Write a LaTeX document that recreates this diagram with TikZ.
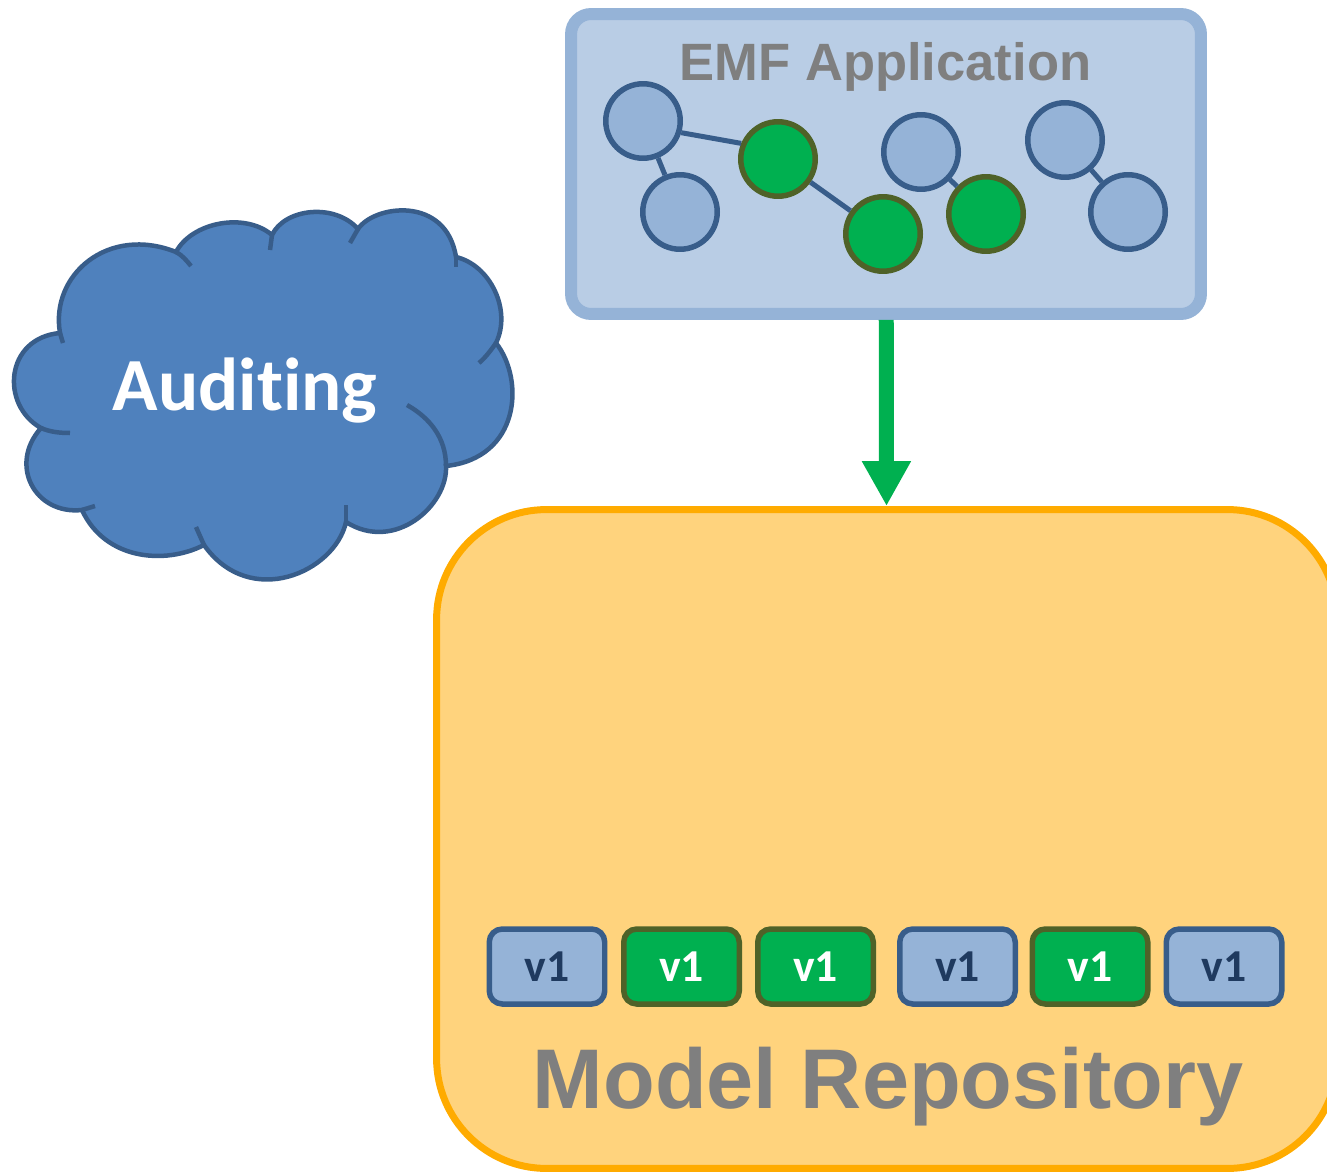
\documentclass[tikz,border=0pt]{standalone}
\usepackage{fontspec}
\setmainfont{Liberation Sans}
\newfontfamily\calfont[Ligatures=NoCommon]{Carlito}
\usetikzlibrary{arrows.meta}
\definecolor{lightblue}{HTML}{95B3D7}
\definecolor{paleblue}{HTML}{B9CDE5}
\definecolor{darkblue}{HTML}{385D8A}
\definecolor{cloudblue}{HTML}{4F81BD}
\definecolor{inkblue}{HTML}{1F3A5F}
\definecolor{auditgreen}{HTML}{00B050}
\definecolor{darkolive}{HTML}{4F6228}
\definecolor{repofill}{HTML}{FFD37D}
\definecolor{repoline}{HTML}{FFAB00}
\definecolor{titlegray}{HTML}{7F7F7F}
\tikzset{
    objblue/.style={circle,draw=darkblue,fill=lightblue,line width=0.11cm,minimum size=1.49cm,inner sep=0pt},
    objgreen/.style={objblue,draw=darkolive,fill=auditgreen},
    link/.style={draw=darkblue,line width=0.1cm},
    verblue/.style={rectangle,rounded corners=0.26cm,draw=darkblue,fill=lightblue,line width=0.11cm,minimum width=2.31cm,minimum height=1.5cm,inner sep=0pt,text=inkblue,font=\calfont\bfseries\fontsize{26}{26}\selectfont},
    vergreen/.style={verblue,draw=darkolive,fill=auditgreen,text=white},
    cloudline/.style={draw=darkblue,line width=0.09cm},
    title/.style={anchor=base,text=titlegray,font=\bfseries\fontsize{#1}{#1}\selectfont,inner sep=0pt}
}
\begin{document}
\begin{tikzpicture}[x=0.02cm,y=-0.02cm]
    \useasboundingbox (0,0) rectangle (1327,1172);

    \coordinate (c1) at (60,333);
    \coordinate (c2) at (176,252);
    \coordinate (c3) at (272,235);
    \coordinate (c4) at (358,229);
    \coordinate (c5) at (456,257);
    \coordinate (c6) at (496,343);
    \coordinate (c7) at (446,466);
    \coordinate (c8) at (346,522);
    \coordinate (c9) at (204,545);
    \coordinate (c10) at (82,510);
    \coordinate (c11) at (41,428);

    \coordinate (t1) at (63,343);
    \coordinate (t2) at (191,266);
    \coordinate (t3) at (270,250);
    \coordinate (t4) at (350,243);
    \coordinate (t5) at (456,267);
    \coordinate (t6) at (479,363);
    \coordinate (t7) at (407,405);
    \coordinate (t8) at (346,505);
    \coordinate (t9) at (196,527);
    \coordinate (t10) at (95,506);
    \coordinate (t11) at (70,433);

    \filldraw[cloudline,fill=cloudblue] (c1)
        .. controls (50,275) and (108,225) .. (c2)
        .. controls (192,222) and (245,212) .. (c3)
        .. controls (285,208) and (335,203) .. (c4)
        .. controls (374,205) and (446,195) .. (c5)
        .. controls (490,265) and (512,310) .. (c6)
        .. controls (525,380) and (520,458) .. (c7)
        .. controls (448,505) and (395,553) .. (c8)
        .. controls (335,572) and (250,610) .. (c9)
        .. controls (165,565) and (105,560) .. (c10)
        .. controls (35,515) and (8,465) .. (c11)
        .. controls (0,405) and (5,338) .. cycle;

    \draw[cloudline] (c1) -- (t1);
    \draw[cloudline] (c2) .. controls (182,255) and (187,261) .. (t2);
    \draw[cloudline] (c3) -- (t3);
    \draw[cloudline] (c4) -- (t4);
    \draw[cloudline] (c5) -- (t5);
    \draw[cloudline] (c6) .. controls (491,350) and (486,357) .. (t6);
    \draw[cloudline] (c7) .. controls (446,438) and (430,418) .. (t7);
    \draw[cloudline] (c8) -- (t8);
    \draw[cloudline] (c9) -- (t9);
    \draw[cloudline] (c10) -- (t10);
    \draw[cloudline] (c11) .. controls (50,432) and (60,433) .. (t11);

    \node[anchor=base,inner sep=0pt,text=white,font=\calfont\bfseries\fontsize{42.7}{42.7}\selectfont] (audit) at (245,410) {Auditing};

    \node[rectangle,rounded corners=0.4cm,draw=lightblue,fill=paleblue,line width=0.24cm,minimum width=12.6cm,minimum height=6cm] (emf) at (886,164) {};
    \node[title=29.9] (emftitle) at (885.5,81) {EMF Application};

    \node[rectangle,rounded corners=2.2cm,draw=repoline,fill=repofill,line width=0.14cm,minimum width=18.02cm,minimum height=13.18cm] (repo) at (887,839) {};
    \node[title=48.2] (repotitle) at (888,1108) {Model Repository};

    \node[objblue] (o1) at (643,121) {};
    \node[objblue] (o2) at (680,212) {};
    \node[objgreen] (o3) at (778,159) {};
    \node[objgreen] (o4) at (883,234) {};
    \node[objblue] (o5) at (921,152) {};
    \node[objgreen] (o6) at (986,214) {};
    \node[objblue] (o7) at (1065,140) {};
    \node[objblue] (o8) at (1128,212) {};

    \draw[link] (o1.-17) -- (o3.157);
    \draw[link] (o1) -- (o2);
    \draw[link] (o3) -- (o4);
    \draw[link] (o5) -- (o6);
    \draw[link] (o7) -- (o8);

    \draw[auditgreen,line width=0.3cm,-{Triangle[width=0.92cm,length=0.9cm]}] (emf) -- (repo);

    \node[verblue] (v1) at (547,966.5) {v1};
    \node[vergreen] (v2) at (681.5,966.5) {v1};
    \node[vergreen] (v3) at (815.5,966.5) {v1};
    \node[verblue] (v4) at (957.5,966.5) {v1};
    \node[vergreen] (v5) at (1090,966.5) {v1};
    \node[verblue] (v6) at (1224,966.5) {v1};
\end{tikzpicture}
\end{document}
